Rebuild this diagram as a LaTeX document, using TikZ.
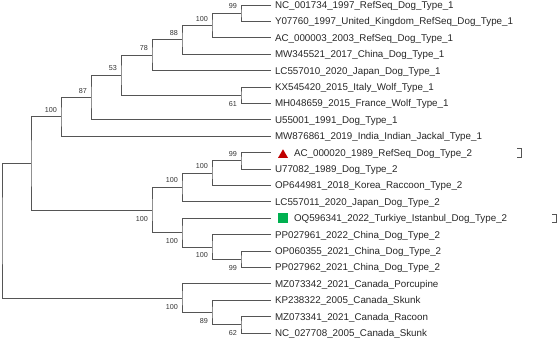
\documentclass[tikz,border=0pt]{standalone}
\usepackage{fontspec}
\setmainfont{Liberation Sans}
\usetikzlibrary{positioning,shapes.geometric}

\definecolor{branchgray}{RGB}{85,85,85}
\definecolor{markred}{RGB}{192,0,0}
\definecolor{markgreen}{RGB}{0,176,80}

\begin{document}
\begin{tikzpicture}[x=1pt,y=-1pt,
  branch/.style={draw=branchgray,line width=0.8pt},
  taxon/.style={anchor=west,inner sep=0pt,outer sep=0pt,text height=8pt,text depth=1pt,
    font=\fontsize{9.8}{11}\selectfont,text=black!85},
  boot/.style={inner sep=0pt,outer sep=0pt,font=\fontsize{7.2}{8}\selectfont,text=black!80},
  tri/.style={regular polygon,regular polygon sides=3,minimum size=11.5pt,inner sep=0pt,fill=markred},
  sq/.style={rectangle,minimum size=10pt,inner sep=0pt,fill=markgreen}]
  \useasboundingbox (0,0) rectangle (560,341);

  % leaf tips
  \foreach \i in {0,...,20}
    \coordinate (t\i) at (271,5+16.4*\i);

  % inner nodes
  \coordinate (n99a)  at (241,13.2);
  \coordinate (n100a) at (212,25.5);
  \coordinate (n88)   at (182,39.85);
  \coordinate (n78)   at (152,55.2);
  \coordinate (n61)   at (241,95.2);
  \coordinate (n53)   at (121,75.2);
  \coordinate (n87)   at (91,97.5);
  \coordinate (n100b) at (61,116.85);
  \coordinate (n99b)  at (241,160.8);
  \coordinate (n100c) at (212,173.1);
  \coordinate (n100d) at (182,187.45);
  \coordinate (n99c)  at (241,259.2);
  \coordinate (n100e) at (212,246.9);
  \coordinate (n100f) at (182,232.55);
  \coordinate (n100g) at (152,210);
  \coordinate (n100h) at (31,163.4);
  \coordinate (n62)   at (241,324.8);
  \coordinate (n89)   at (212,312.5);
  \coordinate (n100i) at (182,298.15);
  \coordinate (root)  at (2,230.8);

  % branches
  \draw[branch] (t0) -| (n99a) |- (t1);
  \draw[branch] (n99a) -| (n100a) |- (t2);
  \draw[branch] (n100a) -| (n88) |- (t3);
  \draw[branch] (n88) -| (n78) |- (t4);
  \draw[branch] (t5) -| (n61) |- (t6);
  \draw[branch] (n78) -| (n53) |- (n61);
  \draw[branch] (n53) -| (n87) |- (t7);
  \draw[branch] (n87) -| (n100b) |- (t8);
  \draw[branch] (t9) -| (n99b) |- (t10);
  \draw[branch] (n99b) -| (n100c) |- (t11);
  \draw[branch] (n100c) -| (n100d) |- (t12);
  \draw[branch] (t15) -| (n99c) |- (t16);
  \draw[branch] (t14) -| (n100e) |- (n99c);
  \draw[branch] (t13) -| (n100f) |- (n100e);
  \draw[branch] (n100d) -| (n100g) |- (n100f);
  \draw[branch] (n100b) -| (n100h) |- (n100g);
  \draw[branch] (t19) -| (n62) |- (t20);
  \draw[branch] (t18) -| (n89) |- (n62);
  \draw[branch] (t17) -| (n100i) |- (n89);
  \draw[branch] (n100h) -| (root) |- (n100i);

  % bootstrap values
  \node[boot,above left=4.4pt and 4pt of n99a]  (b99a)  {99};
  \node[boot,above left=4.4pt and 4pt of n100a] (b100a) {100};
  \node[boot,above left=4.4pt and 4pt of n88]   (b88)   {88};
  \node[boot,above left=4.4pt and 4pt of n78]   (b78)   {78};
  \node[boot,above left=4.4pt and 4pt of n53]   (b53)   {53};
  \node[boot,above left=4.4pt and 4pt of n87]   (b87)   {87};
  \node[boot,above left=4.4pt and 4pt of n100b] (b100b) {100};
  \node[boot,below left=6pt and 4pt of n61]     (b61)   {61};
  \node[boot,above left=4.4pt and 4pt of n99b]  (b99b)  {99};
  \node[boot,above left=4.4pt and 4pt of n100c] (b100c) {100};
  \node[boot,above left=4.4pt and 4pt of n100d] (b100d) {100};
  \node[boot,below left=6pt and 4pt of n100g]   (b100g) {100};
  \node[boot,below left=6pt and 4pt of n100f]   (b100f) {100};
  \node[boot,below left=6pt and 4pt of n100e]   (b100e) {100};
  \node[boot,below left=6pt and 4pt of n99c]    (b99c)  {99};
  \node[boot,below left=6pt and 4pt of n100i]   (b100i) {100};
  \node[boot,below left=6pt and 4pt of n89]     (b89)   {89};
  \node[boot,below left=6pt and 4pt of n62]     (b62)   {62};

  % taxa
  \node[taxon,right=4pt of t0]  (l0)  {NC\_001734\_1997\_RefSeq\_Dog\_Type\_1};
  \node[taxon,right=4pt of t1]  (l1)  {Y07760\_1997\_United\_Kingdom\_RefSeq\_Dog\_Type\_1};
  \node[taxon,right=4pt of t2]  (l2)  {AC\_000003\_2003\_RefSeq\_Dog\_Type\_1};
  \node[taxon,right=4pt of t3]  (l3)  {MW345521\_2017\_China\_Dog\_Type\_1};
  \node[taxon,right=4pt of t4]  (l4)  {LC557010\_2020\_Japan\_Dog\_Type\_1};
  \node[taxon,right=4pt of t5]  (l5)  {KX545420\_2015\_Italy\_Wolf\_Type\_1};
  \node[taxon,right=4pt of t6]  (l6)  {MH048659\_2015\_France\_Wolf\_Type\_1};
  \node[taxon,right=4pt of t7]  (l7)  {U55001\_1991\_Dog\_Type\_1};
  \node[taxon,right=4pt of t8]  (l8)  {MW876861\_2019\_India\_Indian\_Jackal\_Type\_1};
  \node[taxon,right=23pt of t9] (l9)  {AC\_000020\_1989\_RefSeq\_Dog\_Type\_2};
  \node[taxon,right=4pt of t10] (l10) {U77082\_1989\_Dog\_Type\_2};
  \node[taxon,right=4pt of t11] (l11) {OP644981\_2018\_Korea\_Raccoon\_Type\_2};
  \node[taxon,right=4pt of t12] (l12) {LC557011\_2020\_Japan\_Dog\_Type\_2};
  \node[taxon,right=23pt of t13] (l13) {OQ596341\_2022\_Turkiye\_Istanbul\_Dog\_Type\_2};
  \node[taxon,right=4pt of t14] (l14) {PP027961\_2022\_China\_Dog\_Type\_2};
  \node[taxon,right=4pt of t15] (l15) {OP060355\_2021\_China\_Dog\_Type\_2};
  \node[taxon,right=4pt of t16] (l16) {PP027962\_2021\_China\_Dog\_Type\_2};
  \node[taxon,right=4pt of t17] (l17) {MZ073342\_2021\_Canada\_Porcupine};
  \node[taxon,right=4pt of t18] (l18) {KP238322\_2005\_Canada\_Skunk};
  \node[taxon,right=4pt of t19] (l19) {MZ073341\_2021\_Canada\_Racoon};
  \node[taxon,right=4pt of t20] (l20) {NC\_027708\_2005\_Canada\_Skunk};

  % markers and clade brackets
  \node[tri] (m9)  at ([xshift=12pt,yshift=-2.4pt]t9) {};
  \node[sq]  (m13) at ([xshift=12pt]t13) {};
  \coordinate (k9)  at (521,152.6);
  \coordinate (k13) at (556,218.2);
  \draw[branch,line width=0.7pt] ([shift={(-4,-4.3)}]k9) -| ([shift={(0,4.3)}]k9) -- ++(-4,0);
  \draw[branch,line width=0.7pt] ([shift={(-4,-4.3)}]k13) -| ([shift={(0,4.3)}]k13) -- ++(-4,0);
\end{tikzpicture}
\end{document}
